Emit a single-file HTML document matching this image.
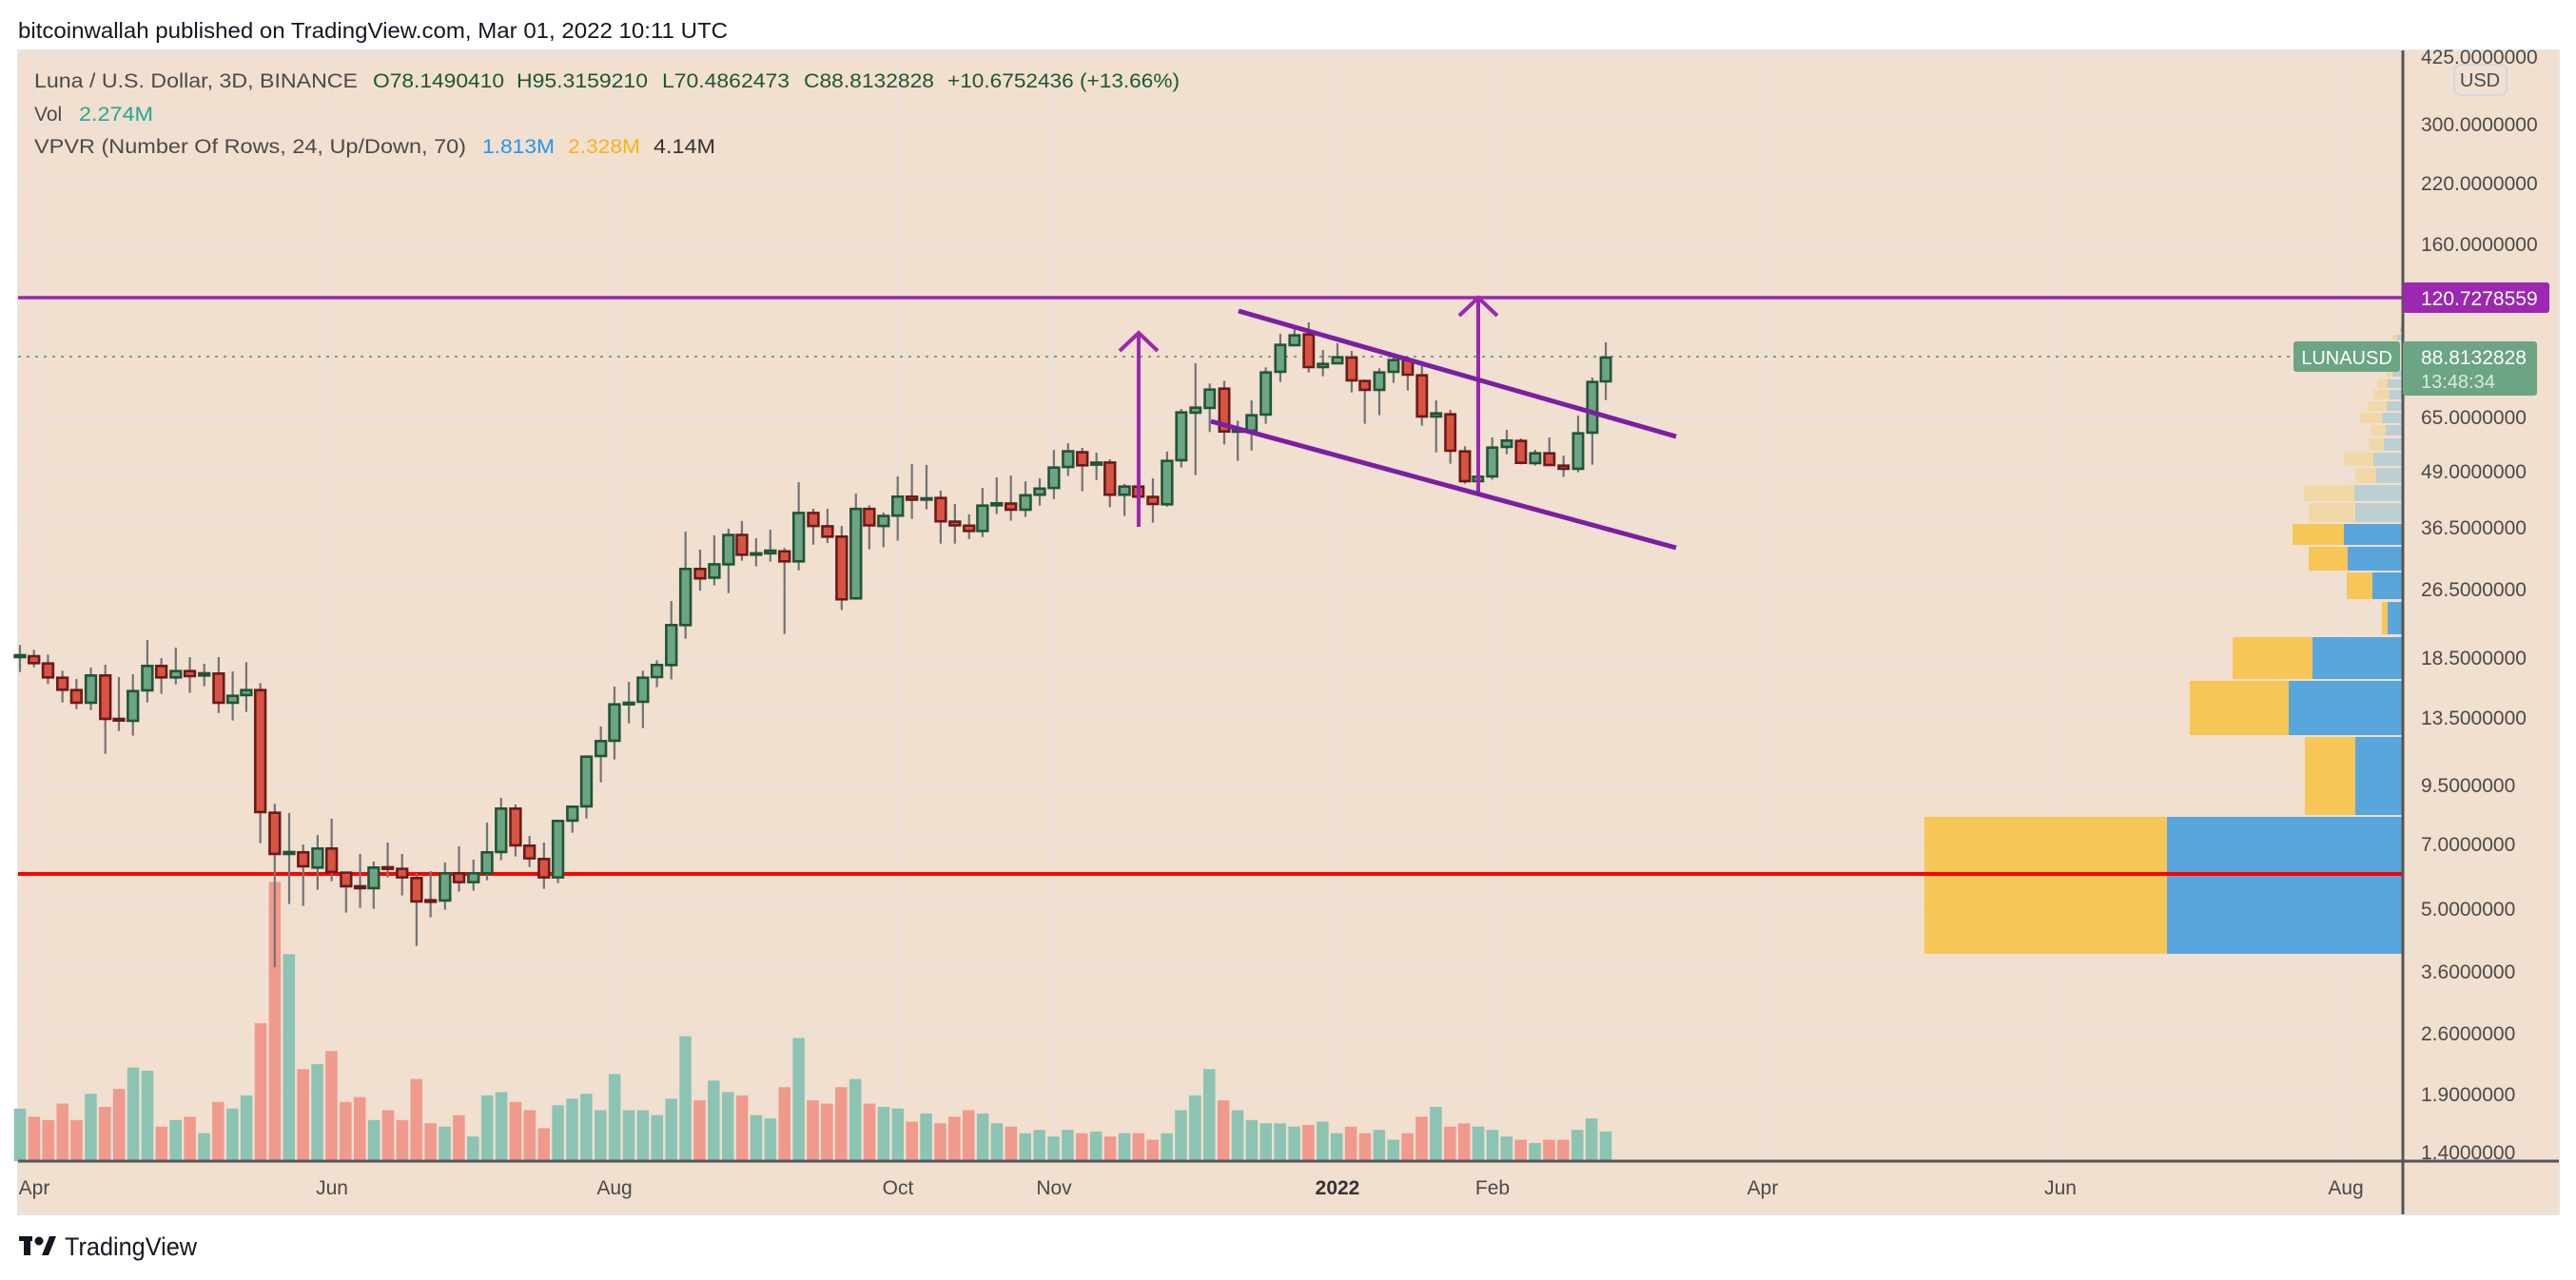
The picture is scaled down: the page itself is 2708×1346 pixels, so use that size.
<!DOCTYPE html>
<html><head><meta charset="utf-8"><style>
html,body{margin:0;padding:0;background:#fff;}
svg{display:block;font-family:"Liberation Sans",sans-serif;}
.w{stroke:#737375;stroke-width:2.2;vector-effect:non-scaling-stroke;}
.g{fill:#6ba583;stroke:#225437;stroke-width:2.6;vector-effect:non-scaling-stroke;}
.r{fill:#d75442;stroke:#6b1a1a;stroke-width:2.6;vector-effect:non-scaling-stroke;}
.vg{fill:#8cc3b2;} .vr{fill:#f0998d;}
.gl{stroke:#e6e0dc;stroke-width:2;}
.pl{font-size:21px;fill:#4a4a4a;}
.dl{font-size:21px;fill:#4a4a4a;text-anchor:middle;}
</style></head><body>
<svg width="2708" height="1346" viewBox="0 0 2708 1346" xmlns="http://www.w3.org/2000/svg">
<rect width="2708" height="1346" fill="#fff"/>
<text x="19" y="40" font-size="23" fill="#131722" textLength="746" lengthAdjust="spacingAndGlyphs">bitcoinwallah published on TradingView.com, Mar 01, 2022 10:11 UTC</text>
<rect x="19" y="53" width="2671" height="1224" fill="#f1dfcf" stroke="#e8e4e0" stroke-width="2"/>
<!-- grid -->
<g class="gl">
<line x1="19" x2="2526" y1="60" y2="60"/><line x1="19" x2="2526" y1="131" y2="131"/><line x1="19" x2="2526" y1="193" y2="193"/><line x1="19" x2="2526" y1="257" y2="257"/><line x1="19" x2="2526" y1="439" y2="439"/><line x1="19" x2="2526" y1="496" y2="496"/><line x1="19" x2="2526" y1="555" y2="555"/><line x1="19" x2="2526" y1="620" y2="620"/><line x1="19" x2="2526" y1="692" y2="692"/><line x1="19" x2="2526" y1="755" y2="755"/><line x1="19" x2="2526" y1="826" y2="826"/><line x1="19" x2="2526" y1="888" y2="888"/><line x1="19" x2="2526" y1="956" y2="956"/><line x1="19" x2="2526" y1="1022" y2="1022"/><line x1="19" x2="2526" y1="1087" y2="1087"/><line x1="19" x2="2526" y1="1151" y2="1151"/><line x1="19" x2="2526" y1="1212" y2="1212"/>
<line x1="36" x2="36" y1="53" y2="1222"/><line x1="349" x2="349" y1="53" y2="1222"/><line x1="646" x2="646" y1="53" y2="1222"/><line x1="944" x2="944" y1="53" y2="1222"/><line x1="1108" x2="1108" y1="53" y2="1222"/><line x1="1406" x2="1406" y1="53" y2="1222"/><line x1="1569" x2="1569" y1="53" y2="1222"/><line x1="1853" x2="1853" y1="53" y2="1222"/><line x1="2166" x2="2166" y1="53" y2="1222"/><line x1="2466" x2="2466" y1="53" y2="1222"/>
</g>
<!-- VPVR -->
<g>
<rect x="2523" y="344" width="3" height="5" fill="#bccfd3"/>
<rect x="2514" y="352" width="6" height="6" fill="#f2d8a6"/><rect x="2520" y="352" width="6" height="6" fill="#bccfd3"/>
<rect x="2508" y="390" width="7" height="6" fill="#f2d8a6"/><rect x="2515" y="390" width="11" height="6" fill="#bccfd3"/>
<rect x="2499" y="399" width="11" height="9" fill="#f2d8a6"/><rect x="2510" y="399" width="16" height="9" fill="#bccfd3"/>
<rect x="2495" y="410" width="17" height="10" fill="#f2d8a6"/><rect x="2512" y="410" width="14" height="10" fill="#bccfd3"/>
<rect x="2489" y="422" width="20" height="10" fill="#f2d8a6"/><rect x="2509" y="422" width="17" height="10" fill="#bccfd3"/>
<rect x="2481" y="434" width="23" height="11" fill="#f2d8a6"/><rect x="2504" y="434" width="22" height="11" fill="#bccfd3"/>
<rect x="2493" y="447" width="15" height="11" fill="#f2d8a6"/><rect x="2508" y="447" width="18" height="11" fill="#bccfd3"/>
<rect x="2490" y="461" width="16" height="13" fill="#f2d8a6"/><rect x="2506" y="461" width="20" height="13" fill="#bccfd3"/>
<rect x="2464" y="476" width="31" height="14" fill="#f2d8a6"/><rect x="2495" y="476" width="31" height="14" fill="#bccfd3"/>
<rect x="2476" y="492" width="22" height="16" fill="#f2d8a6"/><rect x="2498" y="492" width="28" height="16" fill="#bccfd3"/>
<rect x="2422" y="510" width="53" height="17" fill="#f2d8a6"/><rect x="2475" y="510" width="51" height="17" fill="#bccfd3"/>
<rect x="2427" y="529" width="49" height="20" fill="#f2d8a6"/><rect x="2476" y="529" width="50" height="20" fill="#bccfd3"/>
<rect x="2410" y="551" width="54" height="22" fill="#f6c657"/><rect x="2464" y="551" width="62" height="22" fill="#58a6dc"/>
<rect x="2427" y="575" width="41" height="25" fill="#f6c657"/><rect x="2468" y="575" width="58" height="25" fill="#58a6dc"/>
<rect x="2467" y="602" width="27" height="28" fill="#f6c657"/><rect x="2494" y="602" width="32" height="28" fill="#58a6dc"/>
<rect x="2504" y="633" width="6" height="34" fill="#f6c657"/><rect x="2510" y="633" width="16" height="34" fill="#58a6dc"/>
<rect x="2347" y="670" width="84" height="44" fill="#f6c657"/><rect x="2431" y="670" width="95" height="44" fill="#58a6dc"/>
<rect x="2302" y="716" width="104" height="57" fill="#f6c657"/><rect x="2406" y="716" width="120" height="57" fill="#58a6dc"/>
<rect x="2423" y="775" width="53" height="82" fill="#f6c657"/><rect x="2476" y="775" width="50" height="82" fill="#58a6dc"/>
<rect x="2023" y="859" width="255" height="144" fill="#f6c657"/><rect x="2278" y="859" width="248" height="144" fill="#58a6dc"/>
</g>
<!-- volume -->
<g transform="translate(14.75,0) scale(14.884,1.727)">
<rect class="vg" x="0" y="675" width="0.84" height="32"/><rect class="vr" x="1" y="680" width="0.84" height="27"/><rect class="vr" x="2" y="682" width="0.84" height="25"/><rect class="vr" x="3" y="672" width="0.84" height="35"/><rect class="vr" x="4" y="682" width="0.84" height="25"/><rect class="vg" x="5" y="666" width="0.84" height="41"/><rect class="vr" x="6" y="674" width="0.84" height="33"/><rect class="vr" x="7" y="663" width="0.84" height="44"/><rect class="vg" x="8" y="650" width="0.84" height="57"/><rect class="vg" x="9" y="652" width="0.84" height="55"/><rect class="vr" x="10" y="686" width="0.84" height="21"/><rect class="vg" x="11" y="682" width="0.84" height="25"/><rect class="vr" x="12" y="680" width="0.84" height="27"/><rect class="vg" x="13" y="690" width="0.84" height="17"/><rect class="vr" x="14" y="671" width="0.84" height="36"/><rect class="vg" x="15" y="675" width="0.84" height="32"/><rect class="vg" x="16" y="667" width="0.84" height="40"/>
<rect class="vr" x="17" y="623" width="0.84" height="84"/><rect class="vr" x="18" y="537" width="0.84" height="170"/><rect class="vg" x="19" y="581" width="0.84" height="126"/><rect class="vr" x="20" y="651" width="0.84" height="56"/><rect class="vg" x="21" y="648" width="0.84" height="59"/><rect class="vr" x="22" y="640" width="0.84" height="67"/><rect class="vr" x="23" y="671" width="0.84" height="36"/><rect class="vr" x="24" y="668" width="0.84" height="39"/><rect class="vg" x="25" y="682" width="0.84" height="25"/><rect class="vr" x="26" y="676" width="0.84" height="31"/><rect class="vr" x="27" y="682" width="0.84" height="25"/><rect class="vr" x="28" y="657" width="0.84" height="50"/><rect class="vr" x="29" y="684" width="0.84" height="23"/><rect class="vg" x="30" y="686" width="0.84" height="21"/><rect class="vr" x="31" y="679" width="0.84" height="28"/><rect class="vg" x="32" y="692" width="0.84" height="15"/><rect class="vg" x="33" y="667" width="0.84" height="40"/><rect class="vg" x="34" y="665" width="0.84" height="42"/><rect class="vr" x="35" y="671" width="0.84" height="36"/><rect class="vr" x="36" y="676" width="0.84" height="31"/><rect class="vr" x="37" y="687" width="0.84" height="20"/><rect class="vg" x="38" y="673" width="0.84" height="34"/><rect class="vg" x="39" y="669" width="0.84" height="38"/><rect class="vg" x="40" y="666" width="0.84" height="41"/><rect class="vg" x="41" y="676" width="0.84" height="31"/><rect class="vg" x="42" y="654" width="0.84" height="53"/><rect class="vg" x="43" y="676" width="0.84" height="31"/><rect class="vg" x="44" y="676" width="0.84" height="31"/><rect class="vg" x="45" y="679" width="0.84" height="28"/><rect class="vg" x="46" y="669" width="0.84" height="38"/><rect class="vg" x="47" y="631" width="0.84" height="76"/><rect class="vr" x="48" y="670" width="0.84" height="37"/><rect class="vg" x="49" y="658" width="0.84" height="49"/><rect class="vg" x="50" y="665" width="0.84" height="42"/><rect class="vr" x="51" y="667" width="0.84" height="40"/><rect class="vg" x="52" y="679" width="0.84" height="28"/><rect class="vg" x="53" y="681" width="0.84" height="26"/><rect class="vr" x="54" y="662" width="0.84" height="45"/><rect class="vg" x="55" y="632" width="0.84" height="75"/><rect class="vr" x="56" y="670" width="0.84" height="37"/><rect class="vr" x="57" y="672" width="0.84" height="35"/><rect class="vr" x="58" y="662" width="0.84" height="45"/><rect class="vg" x="59" y="657" width="0.84" height="50"/><rect class="vr" x="60" y="672" width="0.84" height="35"/><rect class="vg" x="61" y="674" width="0.84" height="33"/><rect class="vg" x="62" y="675" width="0.84" height="32"/><rect class="vr" x="63" y="683" width="0.84" height="24"/><rect class="vg" x="64" y="678" width="0.84" height="29"/><rect class="vr" x="65" y="684" width="0.84" height="23"/><rect class="vr" x="66" y="680" width="0.84" height="27"/><rect class="vr" x="67" y="676" width="0.84" height="31"/><rect class="vg" x="68" y="678" width="0.84" height="29"/><rect class="vg" x="69" y="684" width="0.84" height="23"/><rect class="vr" x="70" y="686" width="0.84" height="21"/><rect class="vg" x="71" y="690" width="0.84" height="17"/><rect class="vg" x="72" y="688" width="0.84" height="19"/><rect class="vg" x="73" y="692" width="0.84" height="15"/><rect class="vg" x="74" y="688" width="0.84" height="19"/><rect class="vr" x="75" y="690" width="0.84" height="17"/><rect class="vg" x="76" y="689" width="0.84" height="18"/><rect class="vr" x="77" y="692" width="0.84" height="15"/><rect class="vg" x="78" y="690" width="0.84" height="17"/><rect class="vr" x="79" y="690" width="0.84" height="17"/><rect class="vr" x="80" y="694" width="0.84" height="13"/><rect class="vg" x="81" y="690" width="0.84" height="17"/><rect class="vg" x="82" y="676" width="0.84" height="31"/><rect class="vg" x="83" y="667" width="0.84" height="40"/><rect class="vg" x="84" y="651" width="0.84" height="56"/><rect class="vr" x="85" y="670" width="0.84" height="37"/><rect class="vg" x="86" y="676" width="0.84" height="31"/><rect class="vg" x="87" y="682" width="0.84" height="25"/><rect class="vg" x="88" y="684" width="0.84" height="23"/><rect class="vg" x="89" y="684" width="0.84" height="23"/><rect class="vg" x="90" y="686" width="0.84" height="21"/><rect class="vr" x="91" y="685" width="0.84" height="22"/><rect class="vg" x="92" y="683" width="0.84" height="24"/><rect class="vg" x="93" y="690" width="0.84" height="17"/><rect class="vr" x="94" y="686" width="0.84" height="21"/><rect class="vr" x="95" y="690" width="0.84" height="17"/><rect class="vg" x="96" y="688" width="0.84" height="19"/><rect class="vg" x="97" y="694" width="0.84" height="13"/><rect class="vr" x="98" y="690" width="0.84" height="17"/><rect class="vr" x="99" y="680" width="0.84" height="27"/><rect class="vg" x="100" y="674" width="0.84" height="33"/><rect class="vr" x="101" y="686" width="0.84" height="21"/><rect class="vr" x="102" y="684" width="0.84" height="23"/><rect class="vg" x="103" y="686" width="0.84" height="21"/><rect class="vg" x="104" y="688" width="0.84" height="19"/><rect class="vg" x="105" y="692" width="0.84" height="15"/><rect class="vr" x="106" y="694" width="0.84" height="13"/><rect class="vg" x="107" y="696" width="0.84" height="11"/><rect class="vr" x="108" y="694" width="0.84" height="13"/><rect class="vr" x="109" y="694" width="0.84" height="13"/><rect class="vg" x="110" y="688" width="0.84" height="19"/><rect class="vg" x="111" y="681" width="0.84" height="26"/><rect class="vg" x="112" y="689" width="0.84" height="18"/>
</g>
<!-- red support -->
<line x1="19" x2="2526" y1="919" y2="919" stroke="#ff0000" stroke-width="4"/>
<!-- dotted price line -->
<line x1="19" x2="2411" y1="375" y2="375" stroke="#6ba583" stroke-width="2" stroke-dasharray="3,6"/>
<!-- candles zoom4 -->
<g transform="translate(0,600) scale(0.4464,0.3333)">
<line class="w" x1="47" x2="47" y1="235" y2="320"/><rect class="g" x="35" y="267" width="24" height="6"/>
<line class="w" x1="80" x2="80" y1="250" y2="305"/><rect class="r" x="68" y="270" width="24" height="22"/>
<line class="w" x1="113" x2="113" y1="265" y2="358"/><rect class="r" x="101" y="293" width="24" height="44"/>
<line class="w" x1="147" x2="147" y1="316" y2="416"/><rect class="r" x="135" y="338" width="24" height="38"/>
<line class="w" x1="180" x2="180" y1="342" y2="437"/><rect class="r" x="168" y="377" width="24" height="40"/>
<line class="w" x1="214" x2="214" y1="306" y2="440"/><rect class="g" x="202" y="331" width="24" height="86"/>
<line class="w" x1="248" x2="248" y1="297" y2="578"/><rect class="r" x="236" y="331" width="24" height="137"/>
<line class="w" x1="280" x2="280" y1="336" y2="506"/><rect class="r" x="268" y="468" width="24" height="5"/>
<line class="w" x1="313" x2="313" y1="327" y2="521"/><rect class="g" x="301" y="380" width="24" height="94"/>
<line class="w" x1="347" x2="347" y1="219" y2="416"/><rect class="g" x="335" y="301" width="24" height="77"/>
<line class="w" x1="380" x2="380" y1="276" y2="389"/><rect class="r" x="368" y="301" width="24" height="36"/>
<line class="w" x1="414" x2="414" y1="243" y2="359"/><rect class="g" x="402" y="317" width="24" height="20"/>
<line class="w" x1="447" x2="447" y1="273" y2="386"/><rect class="r" x="435" y="317" width="24" height="16"/>
<line class="w" x1="481" x2="481" y1="294" y2="365"/><rect class="g" x="469" y="324" width="24" height="7"/>
<line class="w" x1="515" x2="515" y1="273" y2="449"/><rect class="r" x="503" y="325" width="24" height="92"/>
<line class="w" x1="548" x2="548" y1="318" y2="473"/><rect class="g" x="536" y="395" width="24" height="22"/>
<line class="w" x1="580" x2="580" y1="289" y2="446"/><rect class="g" x="568" y="377" width="24" height="16"/>
<line class="w" x1="613" x2="613" y1="355" y2="860"/><rect class="r" x="601" y="377" width="24" height="385"/>
<line class="w" x1="647" x2="647" y1="736" y2="1252"/><rect class="r" x="635" y="764" width="24" height="130"/>
<line class="w" x1="681" x2="681" y1="765" y2="1052"/><rect class="g" x="669" y="888" width="24" height="6"/>
<line class="w" x1="714" x2="714" y1="864" y2="1058"/><rect class="r" x="702" y="889" width="24" height="44"/>
<line class="w" x1="748" x2="748" y1="834" y2="1007"/><rect class="g" x="736" y="877" width="24" height="60"/>
<line class="w" x1="781" x2="781" y1="783" y2="980"/><rect class="r" x="769" y="877" width="24" height="74"/>
<line class="w" x1="815" x2="815" y1="953" y2="1079"/><rect class="r" x="803" y="953" width="24" height="43"/>
<line class="w" x1="848" x2="848" y1="894" y2="1064"/><rect class="r" x="836" y="996" width="24" height="6"/>
<line class="w" x1="880" x2="880" y1="918" y2="1067"/><rect class="g" x="868" y="937" width="24" height="65"/>
<line class="w" x1="913" x2="913" y1="858" y2="968"/><rect class="r" x="901" y="936" width="24" height="5"/>
<line class="w" x1="947" x2="947" y1="894" y2="1025"/><rect class="r" x="935" y="941" width="24" height="27"/>
<line class="w" x1="981" x2="981" y1="955" y2="1184"/><rect class="r" x="969" y="970" width="24" height="74"/>
<line class="w" x1="1014" x2="1014" y1="948" y2="1094"/><rect class="r" x="1002" y="1040" width="24" height="5"/>
<line class="w" x1="1048" x2="1048" y1="921" y2="1070"/><rect class="g" x="1036" y="955" width="24" height="86"/>
<line class="w" x1="1081" x2="1081" y1="870" y2="1013"/><rect class="r" x="1069" y="955" width="24" height="28"/>
<line class="w" x1="1115" x2="1115" y1="912" y2="1010"/><rect class="g" x="1103" y="955" width="24" height="28"/>
<line class="w" x1="1147" x2="1147" y1="795" y2="977"/><rect class="g" x="1135" y="889" width="24" height="66"/>
<line class="w" x1="1180" x2="1180" y1="717" y2="914"/><rect class="g" x="1168" y="751" width="24" height="137"/>
<line class="w" x1="1214" x2="1214" y1="738" y2="902"/><rect class="r" x="1202" y="751" width="24" height="116"/>
<line class="w" x1="1247" x2="1247" y1="837" y2="935"/><rect class="r" x="1235" y="868" width="24" height="40"/>
<line class="w" x1="1281" x2="1281" y1="858" y2="1004"/><rect class="r" x="1269" y="910" width="24" height="58"/>
<line class="w" x1="1314" x2="1314" y1="786" y2="986"/><rect class="g" x="1302" y="790" width="24" height="178"/>
<line class="w" x1="1348" x2="1348" y1="745" y2="827"/><rect class="g" x="1336" y="745" width="24" height="44"/>
<line class="w" x1="1381" x2="1381" y1="627" y2="782"/><rect class="g" x="1369" y="587" width="24" height="157"/>
<line class="w" x1="1415" x2="1415" y1="492" y2="668"/><rect class="g" x="1403" y="538" width="24" height="47"/>
<line class="w" x1="1447" x2="1447" y1="366" y2="596"/><rect class="g" x="1435" y="422" width="24" height="115"/>
<line class="w" x1="1481" x2="1481" y1="351" y2="482"/><rect class="g" x="1469" y="417" width="24" height="5"/>
<line class="w" x1="1514" x2="1514" y1="316" y2="497"/><rect class="g" x="1502" y="338" width="24" height="76"/>
<line class="w" x1="1547" x2="1547" y1="283" y2="368"/><rect class="g" x="1535" y="298" width="24" height="38"/>
</g>
<!-- candles zoom5 -->
<g transform="translate(600,450) scale(0.4146,0.3507)">
<line class="w" x1="255" x2="255" y1="519" y2="754"/><rect class="g" x="242" y="591" width="26" height="120"/>
<line class="w" x1="291" x2="291" y1="311" y2="632"/><rect class="g" x="278" y="423" width="26" height="168"/>
<line class="w" x1="328" x2="328" y1="365" y2="488"/><rect class="r" x="315" y="423" width="26" height="28"/>
<line class="w" x1="364" x2="364" y1="322" y2="472"/><rect class="g" x="351" y="409" width="26" height="40"/>
<line class="w" x1="400" x2="400" y1="302" y2="495"/><rect class="g" x="387" y="321" width="26" height="88"/>
<line class="w" x1="434" x2="434" y1="279" y2="398"/><rect class="r" x="421" y="321" width="26" height="59"/>
<line class="w" x1="470" x2="470" y1="331" y2="415"/><rect class="g" x="457" y="376" width="26" height="4"/>
<line class="w" x1="506" x2="506" y1="305" y2="401"/><rect class="g" x="493" y="368" width="26" height="8"/>
<line class="w" x1="542" x2="542" y1="360" y2="618"/><rect class="r" x="529" y="370" width="26" height="30"/>
<line class="w" x1="578" x2="578" y1="163" y2="427"/><rect class="g" x="565" y="255" width="26" height="145"/>
<line class="w" x1="615" x2="615" y1="242" y2="350"/><rect class="r" x="602" y="255" width="26" height="39"/>
<line class="w" x1="651" x2="651" y1="242" y2="345"/><rect class="r" x="638" y="295" width="26" height="31"/>
<line class="w" x1="687" x2="687" y1="294" y2="546"/><rect class="r" x="674" y="326" width="26" height="188"/>
<line class="w" x1="723" x2="723" y1="197" y2="515"/><rect class="g" x="710" y="243" width="26" height="268"/>
<line class="w" x1="757" x2="757" y1="232" y2="364"/><rect class="r" x="744" y="243" width="26" height="49"/>
<line class="w" x1="793" x2="793" y1="254" y2="358"/><rect class="g" x="780" y="264" width="26" height="30"/>
<line class="w" x1="829" x2="829" y1="145" y2="338"/><rect class="g" x="816" y="206" width="26" height="57"/>
<line class="w" x1="865" x2="865" y1="108" y2="273"/><rect class="r" x="852" y="206" width="26" height="9"/>
<line class="w" x1="902" x2="902" y1="111" y2="244"/><rect class="g" x="889" y="211" width="26" height="4"/>
<line class="w" x1="938" x2="938" y1="188" y2="347"/><rect class="r" x="925" y="210" width="26" height="70"/>
<line class="w" x1="974" x2="974" y1="228" y2="347"/><rect class="r" x="961" y="281" width="26" height="11"/>
<line class="w" x1="1010" x2="1010" y1="259" y2="333"/><rect class="r" x="997" y="293" width="26" height="16"/>
<line class="w" x1="1044" x2="1044" y1="180" y2="327"/><rect class="g" x="1031" y="233" width="26" height="76"/>
<line class="w" x1="1080" x2="1080" y1="148" y2="258"/><rect class="g" x="1067" y="226" width="26" height="6"/>
<line class="w" x1="1116" x2="1116" y1="143" y2="278"/><rect class="r" x="1103" y="227" width="26" height="18"/>
<line class="w" x1="1153" x2="1153" y1="160" y2="267"/><rect class="g" x="1140" y="202" width="26" height="43"/>
<line class="w" x1="1189" x2="1189" y1="151" y2="233"/><rect class="g" x="1176" y="182" width="26" height="18"/>
<line class="w" x1="1225" x2="1225" y1="66" y2="213"/><rect class="g" x="1212" y="119" width="26" height="61"/>
<line class="w" x1="1261" x2="1261" y1="46" y2="144"/><rect class="g" x="1248" y="70" width="26" height="47"/>
<line class="w" x1="1297" x2="1297" y1="60" y2="190"/><rect class="r" x="1284" y="73" width="26" height="39"/>
<line class="w" x1="1333" x2="1333" y1="74" y2="156"/><rect class="g" x="1320" y="104" width="26" height="6"/>
<line class="w" x1="1367" x2="1367" y1="94" y2="238"/><rect class="r" x="1354" y="104" width="26" height="96"/>
<line class="w" x1="1404" x2="1404" y1="168" y2="264"/><rect class="g" x="1391" y="176" width="26" height="24"/>
<line class="w" x1="1439" x2="1439" y1="160" y2="250"/><rect class="r" x="1426" y="176" width="26" height="30"/>
<line class="w" x1="1476" x2="1476" y1="151" y2="284"/><rect class="r" x="1463" y="207" width="26" height="21"/>
<line class="w" x1="1512" x2="1512" y1="71" y2="236"/><rect class="g" x="1499" y="99" width="26" height="130"/>
</g>
<!-- candles zoom6 -->
<g transform="translate(1150,280) scale(0.3827,0.3333)">
<line class="w" x1="240" x2="240" y1="450" y2="635"/><rect class="g" x="226.5" y="461" width="27" height="151"/>
<line class="w" x1="279" x2="279" y1="306" y2="659"/><rect class="g" x="265.5" y="446" width="27" height="16"/>
<line class="w" x1="318" x2="318" y1="370" y2="523"/><rect class="g" x="304.5" y="389" width="27" height="58"/>
<line class="w" x1="358" x2="358" y1="361" y2="562"/><rect class="r" x="344.5" y="386" width="27" height="135"/>
<line class="w" x1="395" x2="395" y1="487" y2="614"/><rect class="g" x="381.5" y="516" width="27" height="6"/>
<line class="w" x1="433" x2="433" y1="423" y2="581"/><rect class="g" x="419.5" y="470" width="27" height="49"/>
<line class="w" x1="472" x2="472" y1="319" y2="497"/><rect class="g" x="458.5" y="335" width="27" height="133"/>
<line class="w" x1="512" x2="512" y1="213" y2="365"/><rect class="g" x="498.5" y="248" width="27" height="85"/>
<line class="w" x1="551" x2="551" y1="193" y2="253"/><rect class="g" x="537.5" y="218" width="27" height="31"/>
<line class="w" x1="590" x2="590" y1="177" y2="335"/><rect class="r" x="576.5" y="215" width="27" height="103"/>
<line class="w" x1="629" x2="629" y1="264" y2="347"/><rect class="g" x="615.5" y="308" width="27" height="10"/>
<line class="w" x1="669" x2="669" y1="243" y2="300"/><rect class="g" x="655.5" y="287" width="27" height="19"/>
<line class="w" x1="708" x2="708" y1="267" y2="398"/><rect class="r" x="694.5" y="288" width="27" height="72"/>
<line class="w" x1="744" x2="744" y1="357" y2="497"/><rect class="r" x="730.5" y="362" width="27" height="28"/>
<line class="w" x1="784" x2="784" y1="322" y2="470"/><rect class="g" x="770.5" y="335" width="27" height="55"/>
<line class="w" x1="823" x2="823" y1="282" y2="368"/><rect class="g" x="809.5" y="296" width="27" height="37"/>
<line class="w" x1="862" x2="862" y1="285" y2="392"/><rect class="r" x="848.5" y="296" width="27" height="46"/>
<line class="w" x1="901" x2="901" y1="313" y2="503"/><rect class="r" x="887.5" y="344" width="27" height="130"/>
<line class="w" x1="940" x2="940" y1="423" y2="587"/><rect class="g" x="926.5" y="464" width="27" height="10"/>
<line class="w" x1="979" x2="979" y1="453" y2="623"/><rect class="r" x="965.5" y="467" width="27" height="115"/>
<line class="w" x1="1019" x2="1019" y1="568" y2="686"/><rect class="r" x="1005.5" y="584" width="27" height="94"/>
<line class="w" x1="1055" x2="1055" y1="585" y2="715"/><rect class="g" x="1041.5" y="664" width="27" height="14"/>
<line class="w" x1="1094" x2="1094" y1="540" y2="673"/><rect class="g" x="1080.5" y="572" width="27" height="91"/>
<line class="w" x1="1134" x2="1134" y1="516" y2="593"/><rect class="g" x="1120.5" y="550" width="27" height="20"/>
<line class="w" x1="1173" x2="1173" y1="543" y2="625"/><rect class="r" x="1159.5" y="551" width="27" height="69"/>
<line class="w" x1="1212" x2="1212" y1="579" y2="629"/><rect class="g" x="1198.5" y="590" width="27" height="31"/>
<line class="w" x1="1251" x2="1251" y1="540" y2="627"/><rect class="r" x="1237.5" y="590" width="27" height="37"/>
<line class="w" x1="1290" x2="1290" y1="597" y2="665"/><rect class="r" x="1276.5" y="629" width="27" height="10"/>
<line class="w" x1="1330" x2="1330" y1="471" y2="650"/><rect class="g" x="1316.5" y="527" width="27" height="112"/>
<line class="w" x1="1369" x2="1369" y1="351" y2="626"/><rect class="g" x="1355.5" y="365" width="27" height="160"/>
<line class="w" x1="1406" x2="1406" y1="240" y2="422"/><rect class="g" x="1392.5" y="288" width="27" height="75"/>
</g>
<!-- drawings -->
<line x1="19" x2="2526" y1="313" y2="313" stroke="#9c27b0" stroke-width="3.5"/>
<g stroke="#9c27b0" stroke-width="4" fill="none">
<line x1="1197" x2="1197" y1="554" y2="350"/><polyline points="1177,369 1197,350 1217,369"/>
<line x1="1554" x2="1554" y1="518" y2="313"/><polyline points="1534,332 1554,313 1574,332"/>
</g>
<g stroke="#7b1fa2" stroke-width="5">
<line x1="1302" y1="327" x2="1762" y2="459"/>
<line x1="1273" y1="443" x2="1762" y2="576"/>
</g>
<!-- axes -->
<line x1="2526" x2="2526" y1="53" y2="1277" stroke="#555" stroke-width="3"/>
<line x1="19" x2="2690" y1="1221" y2="1221" stroke="#555" stroke-width="3"/>
<!-- price labels -->
<g class="pl">
<text x="2545" y="67">425.0000000</text>
<text x="2545" y="138">300.0000000</text>
<text x="2545" y="200">220.0000000</text>
<text x="2545" y="264">160.0000000</text>
<text x="2545" y="446">65.0000000</text>
<text x="2545" y="503">49.0000000</text>
<text x="2545" y="562">36.5000000</text>
<text x="2545" y="627">26.5000000</text>
<text x="2545" y="699">18.5000000</text>
<text x="2545" y="762">13.5000000</text>
<text x="2545" y="833">9.5000000</text>
<text x="2545" y="895">7.0000000</text>
<text x="2545" y="963">5.0000000</text>
<text x="2545" y="1029">3.6000000</text>
<text x="2545" y="1094">2.6000000</text>
<text x="2545" y="1158">1.9000000</text>
<text x="2545" y="1219">1.4000000</text>
</g>
<rect x="2580" y="68" width="55" height="32" rx="7" fill="#f1dfcf" stroke="#d4d6dc" stroke-width="2"/>
<text x="2607" y="91" font-size="20" fill="#4a4a4a" text-anchor="middle">USD</text>
<rect x="2526" y="297" width="154" height="32" rx="3" fill="#9c27b0"/>
<text x="2545" y="321" font-size="21" fill="#fff">120.7278559</text>
<rect x="2411" y="359" width="112" height="32" rx="3" fill="#6ba583"/>
<text x="2467" y="383" font-size="20" fill="#fff" text-anchor="middle">LUNAUSD</text>
<rect x="2526" y="359" width="141" height="57" rx="3" fill="#6ba583"/>
<text x="2545" y="383" font-size="21" fill="#fff">88.8132828</text>
<text x="2545" y="408" font-size="20" fill="#d8ebe0">13:48:34</text>
<!-- date labels -->
<g class="dl">
<text x="36" y="1256">Apr</text><text x="349" y="1256">Jun</text><text x="646" y="1256">Aug</text><text x="944" y="1256">Oct</text><text x="1108" y="1256">Nov</text><text x="1406" y="1256" font-weight="bold" fill="#333">2022</text><text x="1569" y="1256">Feb</text><text x="1853" y="1256">Apr</text><text x="2166" y="1256">Jun</text><text x="2466" y="1256">Aug</text>
</g>
<!-- legend -->
<g font-size="21">
<text x="36" y="92" fill="#4a4a4a" textLength="340" lengthAdjust="spacingAndGlyphs">Luna / U.S. Dollar, 3D, BINANCE</text>
<text x="392" y="92" fill="#1e5631" textLength="138" lengthAdjust="spacingAndGlyphs">O78.1490410</text>
<text x="543" y="92" fill="#1e5631" textLength="138" lengthAdjust="spacingAndGlyphs">H95.3159210</text>
<text x="696" y="92" fill="#1e5631" textLength="134" lengthAdjust="spacingAndGlyphs">L70.4862473</text>
<text x="845" y="92" fill="#1e5631" textLength="137" lengthAdjust="spacingAndGlyphs">C88.8132828</text>
<text x="996" y="92" fill="#1e5631" textLength="244" lengthAdjust="spacingAndGlyphs">+10.6752436 (+13.66%)</text>
<text x="36" y="127" fill="#4a4a4a">Vol</text>
<text x="83" y="127" fill="#26a69a" textLength="78" lengthAdjust="spacingAndGlyphs">2.274M</text>
<text x="36" y="161" fill="#4a4a4a" textLength="454" lengthAdjust="spacingAndGlyphs">VPVR (Number Of Rows, 24, Up/Down, 70)</text>
<text x="507" y="161" fill="#2196f3" textLength="76" lengthAdjust="spacingAndGlyphs">1.813M</text>
<text x="597" y="161" fill="#f9b21a" textLength="76" lengthAdjust="spacingAndGlyphs">2.328M</text>
<text x="687" y="161" fill="#333" textLength="65" lengthAdjust="spacingAndGlyphs">4.14M</text>
</g>
<!-- footer logo -->
<g fill="#131722">
<rect x="20" y="1300" width="14" height="5"/><rect x="25" y="1300" width="7" height="20"/>
<circle cx="41" cy="1305" r="4.5"/>
<polygon points="44,1320 52,1300 59,1300 51,1320"/>
<text x="68" y="1320" font-size="27" textLength="139" lengthAdjust="spacingAndGlyphs">TradingView</text>
</g>
</svg>
</body></html>
